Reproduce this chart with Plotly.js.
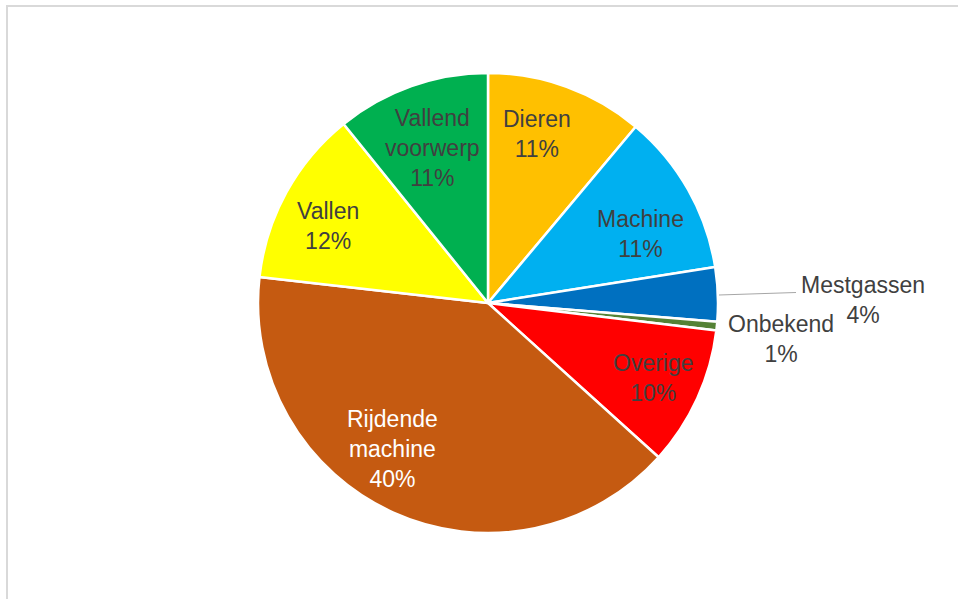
<!DOCTYPE html>
<html>
<head>
<meta charset="utf-8">
<script src="https://cdn.plot.ly/plotly-3.0.1.min.js"></script>
<style>
  html, body { margin: 0; padding: 0; background: #ffffff; }
  #chart { width: 958px; height: 599px; }
</style>
</head>
<body>
<div id="chart"></div>
<script>
// ---- data ----
const categories = ["Dieren", "Machine", "Mestgassen", "Onbekend", "Overige", "Rijdende machine", "Vallen", "Vallend voorwerp"];
const shares = [11.1, 11.4, 3.8, 0.6, 9.8, 40.1, 12.4, 10.8];
const sliceColors = ["#FFC000", "#00B0F0", "#0070C0", "#548235", "#FF0000", "#C55A11", "#FFFF00", "#00B050"];

// ---- label placement (pixel centres of the label blocks) ----
const W = 958, H = 599;
const labelPos = [
  [537, 134], [640, 234], [863, 300], [781, 339],
  [653, 378], [392, 449], [328, 226], [432, 148]
];
const labelColor = ["#404040", "#404040", "#404040", "#404040", "#404040", "#FFFFFF", "#404040", "#404040"];

const total = shares.reduce((a, b) => a + b, 0);
const annotations = categories.map((c, i) => ({
  xref: "paper", yref: "paper",
  x: labelPos[i][0] / W, y: 1 - labelPos[i][1] / H,
  xanchor: "center", yanchor: "middle",
  showarrow: false,
  text: c.replace(" ", "<br>") + "<br>" + Math.round(shares[i] / total * 100) + "%",
  font: { family: "Liberation Sans, Arial, sans-serif", size: 23, color: labelColor[i] },
  align: "center"
}));

const cx = 488, cy = 303, R = 230;
const trace = {
  type: "pie",
  labels: categories,
  values: shares,
  sort: false,
  direction: "clockwise",
  rotation: 0,
  textinfo: "none",
  hoverinfo: "label+percent",
  marker: { colors: sliceColors, line: { color: "#FFFFFF", width: 2.5 } },
  domain: { x: [(cx - R) / W, (cx + R) / W], y: [1 - (cy + R) / H, 1 - (cy - R) / H] },
  showlegend: false
};

const layout = {
  width: W, height: H,
  margin: { l: 0, r: 0, t: 0, b: 0 },
  paper_bgcolor: "#FFFFFF",
  showlegend: false,
  annotations: annotations,
  shapes: [
    { type: "rect", xref: "paper", yref: "paper",
      x0: 7 / W, x1: 1.05, y0: -0.05, y1: 1 - 6 / H,
      line: { color: "#D9D9D9", width: 2 }, fillcolor: "rgba(0,0,0,0)", layer: "below" },
    { type: "line", xref: "paper", yref: "paper",
      x0: 719 / W, y0: 1 - 295 / H, x1: 796 / W, y1: 1 - 292.5 / H,
      line: { color: "#A6A6A6", width: 1 } }
  ]
};

Plotly.newPlot("chart", [trace], layout, { staticPlot: true, displayModeBar: false });
</script>
</body>
</html>
